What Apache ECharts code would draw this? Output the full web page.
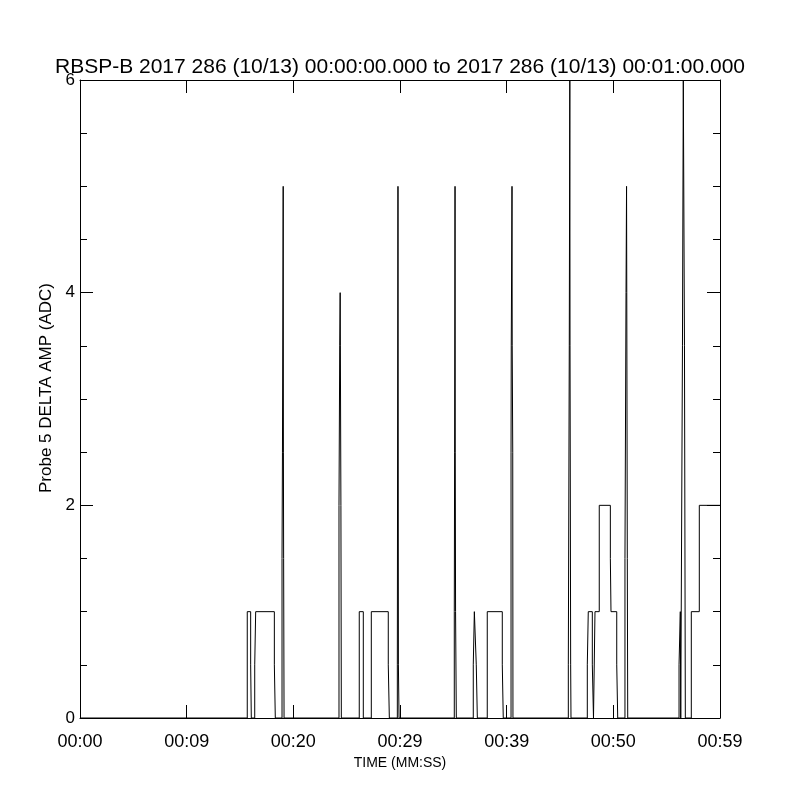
<!DOCTYPE html>
<html>
<head>
<meta charset="utf-8">
<script src="https://cdn.jsdelivr.net/npm/echarts@6/dist/echarts.min.js"></script>
<style>
html,body{margin:0;padding:0;background:#fff;}
#chart{width:800px;height:800px;}
</style>
</head>
<body>
<div id="chart"></div>
<script>
// Change points of the step trace: time (s) where the value starts, and the value
var times = [0,
  15.68, 16.00, 16.06, 16.38, 16.47, 18.22, 18.31,
  18.94, 18.98, 19.05, 19.07, 19.09, 19.13,
  24.28, 24.35, 24.39, 24.41, 24.46, 24.50,
  26.18, 26.56,
  27.31, 28.90, 29.00,
  29.75, 29.78, 29.81, 29.83, 29.85, 29.91,
  35.09, 35.12, 35.16, 35.18, 35.21, 35.28,
  36.87, 36.97, 37.15, 37.25,
  38.18, 39.59, 39.68,
  40.41, 40.43, 40.50, 40.52, 40.57, 40.59,
  45.78, 45.87, 45.92, 45.94, 46.00, 46.03,
  47.56, 47.65, 48.03, 48.14,
  48.28, 48.68, 49.72, 49.78, 50.32, 50.41,
  51.09, 51.19, 51.24, 51.26, 51.31, 51.35,
  56.16, 56.28, 56.32,
  56.48, 56.56, 56.67, 56.75,
  57.31, 58.06, 60];
var values = [0,
  1, 0.5, 0, 0.5, 1, 0.5, 0,
  1.5, 2.5, 5, 2.5, 1.5, 0,
  2, 3.5, 4, 3.5, 2, 0,
  1, 0,
  1, 0.5, 0,
  0.5, 3, 5, 3, 0.5, 0,
  1, 2.5, 5, 2.5, 1, 0,
  0.5, 1, 0.5, 0,
  1, 0.5, 0,
  2.5, 3.5, 5, 3.5, 2.5, 0,
  0.5, 3.5, 6, 3.5, 0.5, 0,
  0.5, 1, 0.5, 0,
  1, 2, 1.5, 1, 0.5, 0,
  1.5, 4, 5, 4, 1.5, 0,
  0.5, 1, 0,
  3.5, 6, 3.5, 0,
  1, 2, 2];
var xTickLabels = ['00:00', '00:09', '00:20', '00:29', '00:39', '00:50', '00:59'];
var yTickLabels = ['0', '2', '4', '6'];
var titleText = 'RBSP-B 2017 286 (10/13) 00:00:00.000 to 2017 286 (10/13) 00:01:00.000';
var xName = 'TIME (MM:SS)';
var yName = 'Probe 5 DELTA AMP (ADC)';

var seriesData = times.map(function (t, i) { return [t, values[i]]; });
var FONT = 'Liberation Sans';

var chart = echarts.init(document.getElementById('chart'), null, {renderer: 'canvas'});
var axisCommon = {
  type: 'value',
  splitLine: {show: false},
  axisLine: {show: true, onZero: false, lineStyle: {color: '#000', width: 1}},
  axisTick: {show: true, inside: true, length: 13, lineStyle: {color: '#000', width: 1}}
};
chart.setOption({
  animation: false,
  backgroundColor: '#fff',
  title: {
    text: titleText,
    left: 'center',
    top: 52,
    textStyle: {fontFamily: FONT, fontSize: 21, fontWeight: 'normal', color: '#000'}
  },
  grid: {left: 80, right: 80, top: 80, bottom: 82, containLabel: false},
  xAxis: [
    Object.assign({}, axisCommon, {
      position: 'bottom', min: 0, max: 60, interval: 10,
      name: xName, nameLocation: 'middle', nameGap: 32,
      nameTextStyle: {fontFamily: FONT, fontSize: 14, color: '#000'},
      axisLabel: {show: true, margin: 15, color: '#000', fontFamily: FONT, fontSize: 18,
        formatter: function (v) { return xTickLabels[Math.round(v / 10)]; }}
    }),
    Object.assign({}, axisCommon, {
      position: 'top', min: 0, max: 60, interval: 10,
      axisLabel: {show: false}
    })
  ],
  yAxis: [
    Object.assign({}, axisCommon, {
      position: 'left', min: 0, max: 6, interval: 2,
      name: yName, nameLocation: 'middle', nameGap: 23, nameRotate: 90,
      nameTextStyle: {fontFamily: FONT, fontSize: 17, color: '#000', padding: [0, 0, 0, 22]},
      minorTick: {show: true, splitNumber: 4, length: 7, lineStyle: {color: '#000', width: 1}},
      axisLabel: {show: true, margin: 5, color: '#000', fontFamily: FONT, fontSize: 17,
        formatter: function (v) { return yTickLabels[Math.round(v / 2)]; }}
    }),
    Object.assign({}, axisCommon, {
      position: 'right', min: 0, max: 6, interval: 2,
      minorTick: {show: true, splitNumber: 4, length: 7, lineStyle: {color: '#000', width: 1}},
      axisLabel: {show: false}
    })
  ],
  series: [{
    type: 'line',
    xAxisIndex: 0,
    yAxisIndex: 0,
    step: 'end',
    data: seriesData,
    showSymbol: false,
    symbol: 'none',
    sampling: null,
    clip: true,
    lineStyle: {color: '#000', width: 1},
    silent: true
  }]
});
</script>
</body>
</html>
